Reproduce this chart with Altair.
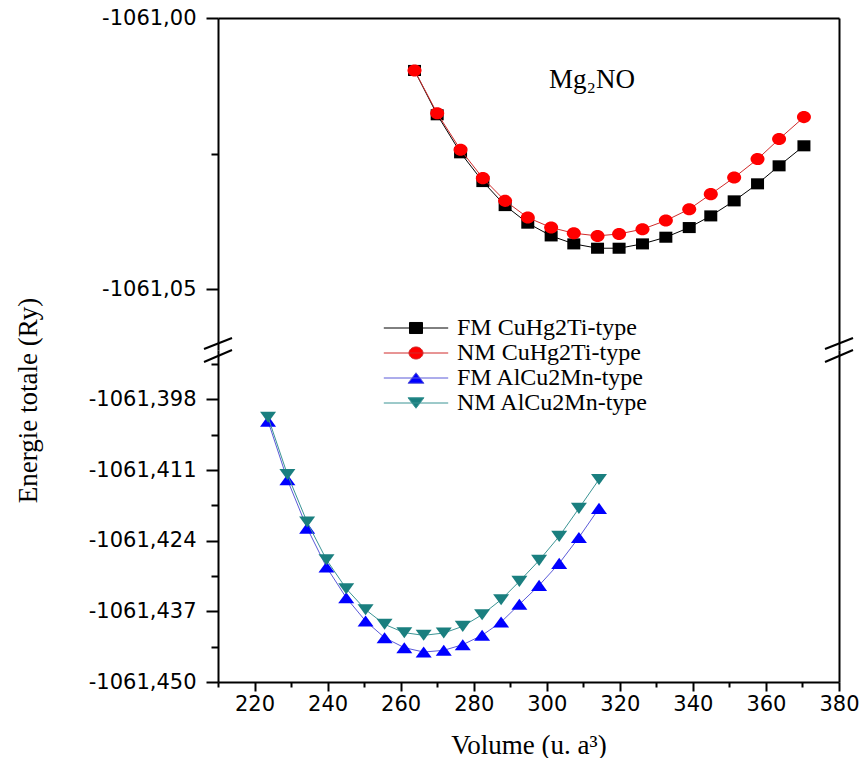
import altair as alt
import pandas as pd

# ---------------- data ----------------
volume_cuhg2ti = [263.8, 270.0, 276.4, 282.5, 288.6, 294.8, 301.2, 307.4, 313.9,
                  319.8, 326.2, 332.6, 339.0, 344.9, 351.3, 357.7, 363.6, 370.4]
energie_fm_cuhg2ti = [-1061.00967, -1061.01784, -1061.02485, -1061.03015, -1061.03458,
                      -1061.03782, -1061.04017, -1061.04164, -1061.04244, -1061.04244,
                      -1061.04164, -1061.04041, -1061.03863, -1061.03648, -1061.03371,
                      -1061.03057, -1061.02725, -1061.02356]
energie_nm_cuhg2ti = [-1061.00967, -1061.01756, -1061.02430, -1061.02952, -1061.03371,
                      -1061.03679, -1061.03863, -1061.03967, -1061.04017, -1061.03980,
                      -1061.03893, -1061.03734, -1061.03524, -1061.03247, -1061.02941,
                      -1061.02601, -1061.02232, -1061.01827]

volume_alcu2mn = [223.7, 229.0, 234.4, 239.7, 245.1, 250.4, 255.6, 261.0, 266.3,
                  271.8, 277.0, 282.3, 287.5, 292.5, 297.9, 303.4, 308.8, 314.3]
energie_fm_alcu2mn = [-1061.40199, -1061.41277, -1061.42168, -1061.42885, -1061.43448,
                      -1061.43878, -1061.44184, -1061.44368, -1061.44449, -1061.44417,
                      -1061.44313, -1061.44141, -1061.43897, -1061.43571, -1061.43222,
                      -1061.42817, -1061.42339, -1061.41805]
energie_nm_alcu2mn = [-1061.40126, -1061.41180, -1061.42057, -1061.42749, -1061.43282,
                      -1061.43669, -1061.43939, -1061.44092, -1061.44141, -1061.44099,
                      -1061.43976, -1061.43761, -1061.43485, -1061.43148, -1061.42762,
                      -1061.42320, -1061.41805, -1061.41272]

series_names = ["FM CuHg2Ti-type", "NM CuHg2Ti-type", "FM AlCu2Mn-type", "NM AlCu2Mn-type"]
marker_colors = ["#000000", "#ff0000", "#0000ff", "#1a7f7f"]
line_colors = ["#000000", "#d02a2a", "#5a5ad8", "#3a9494"]

x_ticks = [210, 220, 230, 240, 250, 260, 270, 280, 290, 300, 310, 320, 330, 340, 350, 360, 370, 380]
y_top_ticks = [-1061.05, -1061.025, -1061.00]
y_bottom_ticks = [-1061.450, -1061.4435, -1061.437, -1061.4305, -1061.424, -1061.4175,
                  -1061.411, -1061.4045, -1061.398, -1061.3915]

annotation_text = ["Mg\u2082NO"]
annotation_x = [312.4]
annotation_y = [-1061.0114]

# ---------------- styling ----------------
W, H = 621, 332
LABEL_FONT = "DejaVu Sans"
TITLE_FONT = "Liberation Serif"

x_scale = alt.Scale(domain=[210, 380], nice=False, zero=False)
y_top_scale = alt.Scale(domain=[-1061.0612, -1061.0], nice=False, zero=False)
y_bot_scale = alt.Scale(domain=[-1061.45, -1061.3889], nice=False, zero=False)

square_path = "M-1,-0.85H1V0.85H-1Z"
circle_path = "M-1,0A1,0.86,0,1,0,1,0A1,0.86,0,1,0,-1,0Z"
tri_up_path = "M0,-0.69L1,0.69H-1Z"
tri_down_path = "M0,0.69L1,-0.69H-1Z"

legend_paths = [
    "M-4.6,0H4.6M-0.93,-0.79H0.93V0.79H-0.93Z",
    "M-4.6,0H4.6M-1,0A1,0.86,0,1,0,1,0A1,0.86,0,1,0,-1,0Z",
    "M-4.6,0H4.6M0,-0.75L1.14,0.75H-1.14Z",
    "M-4.6,0H4.6M0,0.75L1.14,-0.75H-1.14Z",
]

top_minor = "abs(round(datum.value*100) - datum.value*100) > 0.25"
bot_minor = "abs(round(datum.value*1000) - datum.value*1000) > 0.25"
x_minor = "datum.value % 20 != 0"

y_axis_top = alt.Axis(
    orient="left", values=y_top_ticks,
    labelExpr=f"{top_minor} ? '' : '-' + replace(format(abs(datum.value), '.2f'), '.', ',')",
    tickSize={"condition": {"test": top_minor, "value": 7}, "value": 12},
    labelPadding=10,
    title="Energie totale (Ry)", titleFont=TITLE_FONT, titleFontSize=27,
    titleFontWeight="normal", titleColor="black",
    titleX=-190, titleY=382, titleAngle=270, titleAlign="center", titleBaseline="middle",
)
y_axis_bot = alt.Axis(
    orient="left", values=y_bottom_ticks,
    labelExpr=f"{bot_minor} ? '' : '-' + replace(format(abs(datum.value), '.3f'), '.', ',')",
    tickSize={"condition": {"test": bot_minor, "value": 7}, "value": 12},
    labelPadding=10, title=None,
)
x_axis_bot = alt.Axis(
    orient="bottom", values=x_ticks,
    labelExpr=f"{x_minor} || datum.value < 220 ? '' : datum.label",
    tickSize={"condition": {"test": x_minor, "value": 5}, "value": 9},
    labelPadding=2,
    title="Volume (u. a\u00b3)", titleFont=TITLE_FONT, titleFontSize=27,
    titleFontWeight="normal", titleColor="black", titlePadding=18,
)
frame_x_top = alt.Axis(orient="top", labels=False, ticks=False, domain=True, title=None)
frame_y_right = alt.Axis(orient="right", labels=False, ticks=False, domain=True, title=None)


def make_df(vol, en):
    return pd.DataFrame({"Volume": vol, "Energie": en})


def line_layer(df, color, y_scale, x_axis, y_axis):
    return alt.Chart(df).mark_line(color=color, strokeWidth=1).encode(
        x=alt.X("Volume:Q", scale=x_scale, axis=x_axis),
        y=alt.Y("Energie:Q", scale=y_scale, axis=y_axis),
    )


def point_layer(df, color, shape, size, y_scale):
    return alt.Chart(df).mark_point(
        shape=shape, size=size, filled=True, color=color, opacity=1, strokeWidth=0
    ).encode(
        x=alt.X("Volume:Q", scale=x_scale, axis=None),
        y=alt.Y("Energie:Q", scale=y_scale, axis=None),
    )


df_fm_cu = make_df(volume_cuhg2ti, energie_fm_cuhg2ti)
df_nm_cu = make_df(volume_cuhg2ti, energie_nm_cuhg2ti)
df_fm_al = make_df(volume_alcu2mn, energie_fm_alcu2mn)
df_nm_al = make_df(volume_alcu2mn, energie_nm_alcu2mn)

annot_df = pd.DataFrame({"label": annotation_text, "Volume": annotation_x, "Energie": annotation_y})
annot = alt.Chart(annot_df).mark_text(
    font=TITLE_FONT, fontSize=27, color="black", align="center", baseline="middle"
).encode(
    x=alt.X("Volume:Q", scale=x_scale, axis=None),
    y=alt.Y("Energie:Q", scale=y_top_scale, axis=None),
    text="label:N",
)

top = alt.layer(
    line_layer(df_fm_cu, line_colors[0], y_top_scale, frame_x_top, y_axis_top),
    point_layer(df_fm_cu, marker_colors[0], square_path, 169, y_top_scale),
    line_layer(df_nm_cu, line_colors[1], y_top_scale, None, frame_y_right),
    point_layer(df_nm_cu, marker_colors[1], circle_path, 196, y_top_scale),
    annot,
).resolve_axis(x="independent", y="independent").properties(width=W, height=H)

# legend layer (no marks drawn; entries come from the explicit scale domain)
legend_df = pd.DataFrame({"Serie": series_names})
leg = alt.Legend(
    title=None, orient="none", legendX=186, legendY=298,
    labelFont=TITLE_FONT, labelFontSize=24, labelColor="black", labelLimit=0,
    symbolSize=196, symbolStrokeWidth=1, symbolOpacity=1,
    labelOffset=29, rowPadding=1, padding=0,
)
legend_layer = alt.Chart(legend_df).transform_filter("false").mark_point(
    filled=True, opacity=1, strokeWidth=1
).encode(
    fill=alt.Fill("Serie:N", scale=alt.Scale(domain=series_names, range=marker_colors), legend=leg),
    stroke=alt.Stroke("Serie:N", scale=alt.Scale(domain=series_names, range=line_colors), legend=leg),
    shape=alt.Shape("Serie:N", scale=alt.Scale(domain=series_names, range=legend_paths), legend=leg),
)

# axis-break marks (double slashes) on both vertical axes
break_x_left = [-14, W - 14]
breaks = []
for bx in break_x_left:
    for (ya, yb) in [(-1, -12), (12, 0)]:
        breaks.append(
            alt.Chart(legend_df).mark_rule(color="black", strokeWidth=2).encode(
                x=alt.value(bx), x2=alt.value(bx + 28), y=alt.value(ya), y2=alt.value(yb)
            ).transform_filter("datum.Serie == 'FM CuHg2Ti-type'")
        )

bottom = alt.layer(
    line_layer(df_fm_al, line_colors[2], y_bot_scale, x_axis_bot, y_axis_bot),
    point_layer(df_fm_al, marker_colors[2], tri_up_path, 256, y_bot_scale),
    line_layer(df_nm_al, line_colors[3], y_bot_scale, None, frame_y_right),
    point_layer(df_nm_al, marker_colors[3], tri_down_path, 256, y_bot_scale),
    legend_layer,
    *breaks,
).resolve_axis(x="independent", y="independent").properties(width=W, height=H)

chart = alt.vconcat(top, bottom, spacing=0, bounds="flush").properties(
    padding={"left": 14, "top": 7, "right": 0, "bottom": 0},
    background="white",
).configure_view(stroke=None).configure_axis(
    domainColor="black", domainWidth=2, tickColor="black", tickWidth=2,
    labelFont=LABEL_FONT, labelFontSize=21, labelColor="black",
    grid=False, labelFlush=False, labelOverlap=False,
).configure_legend(
    labelFont=TITLE_FONT, labelFontSize=24, labelColor="black", labelLimit=0,
)

chart.save("out.html", embed_options={"renderer": "svg", "actions": False})
